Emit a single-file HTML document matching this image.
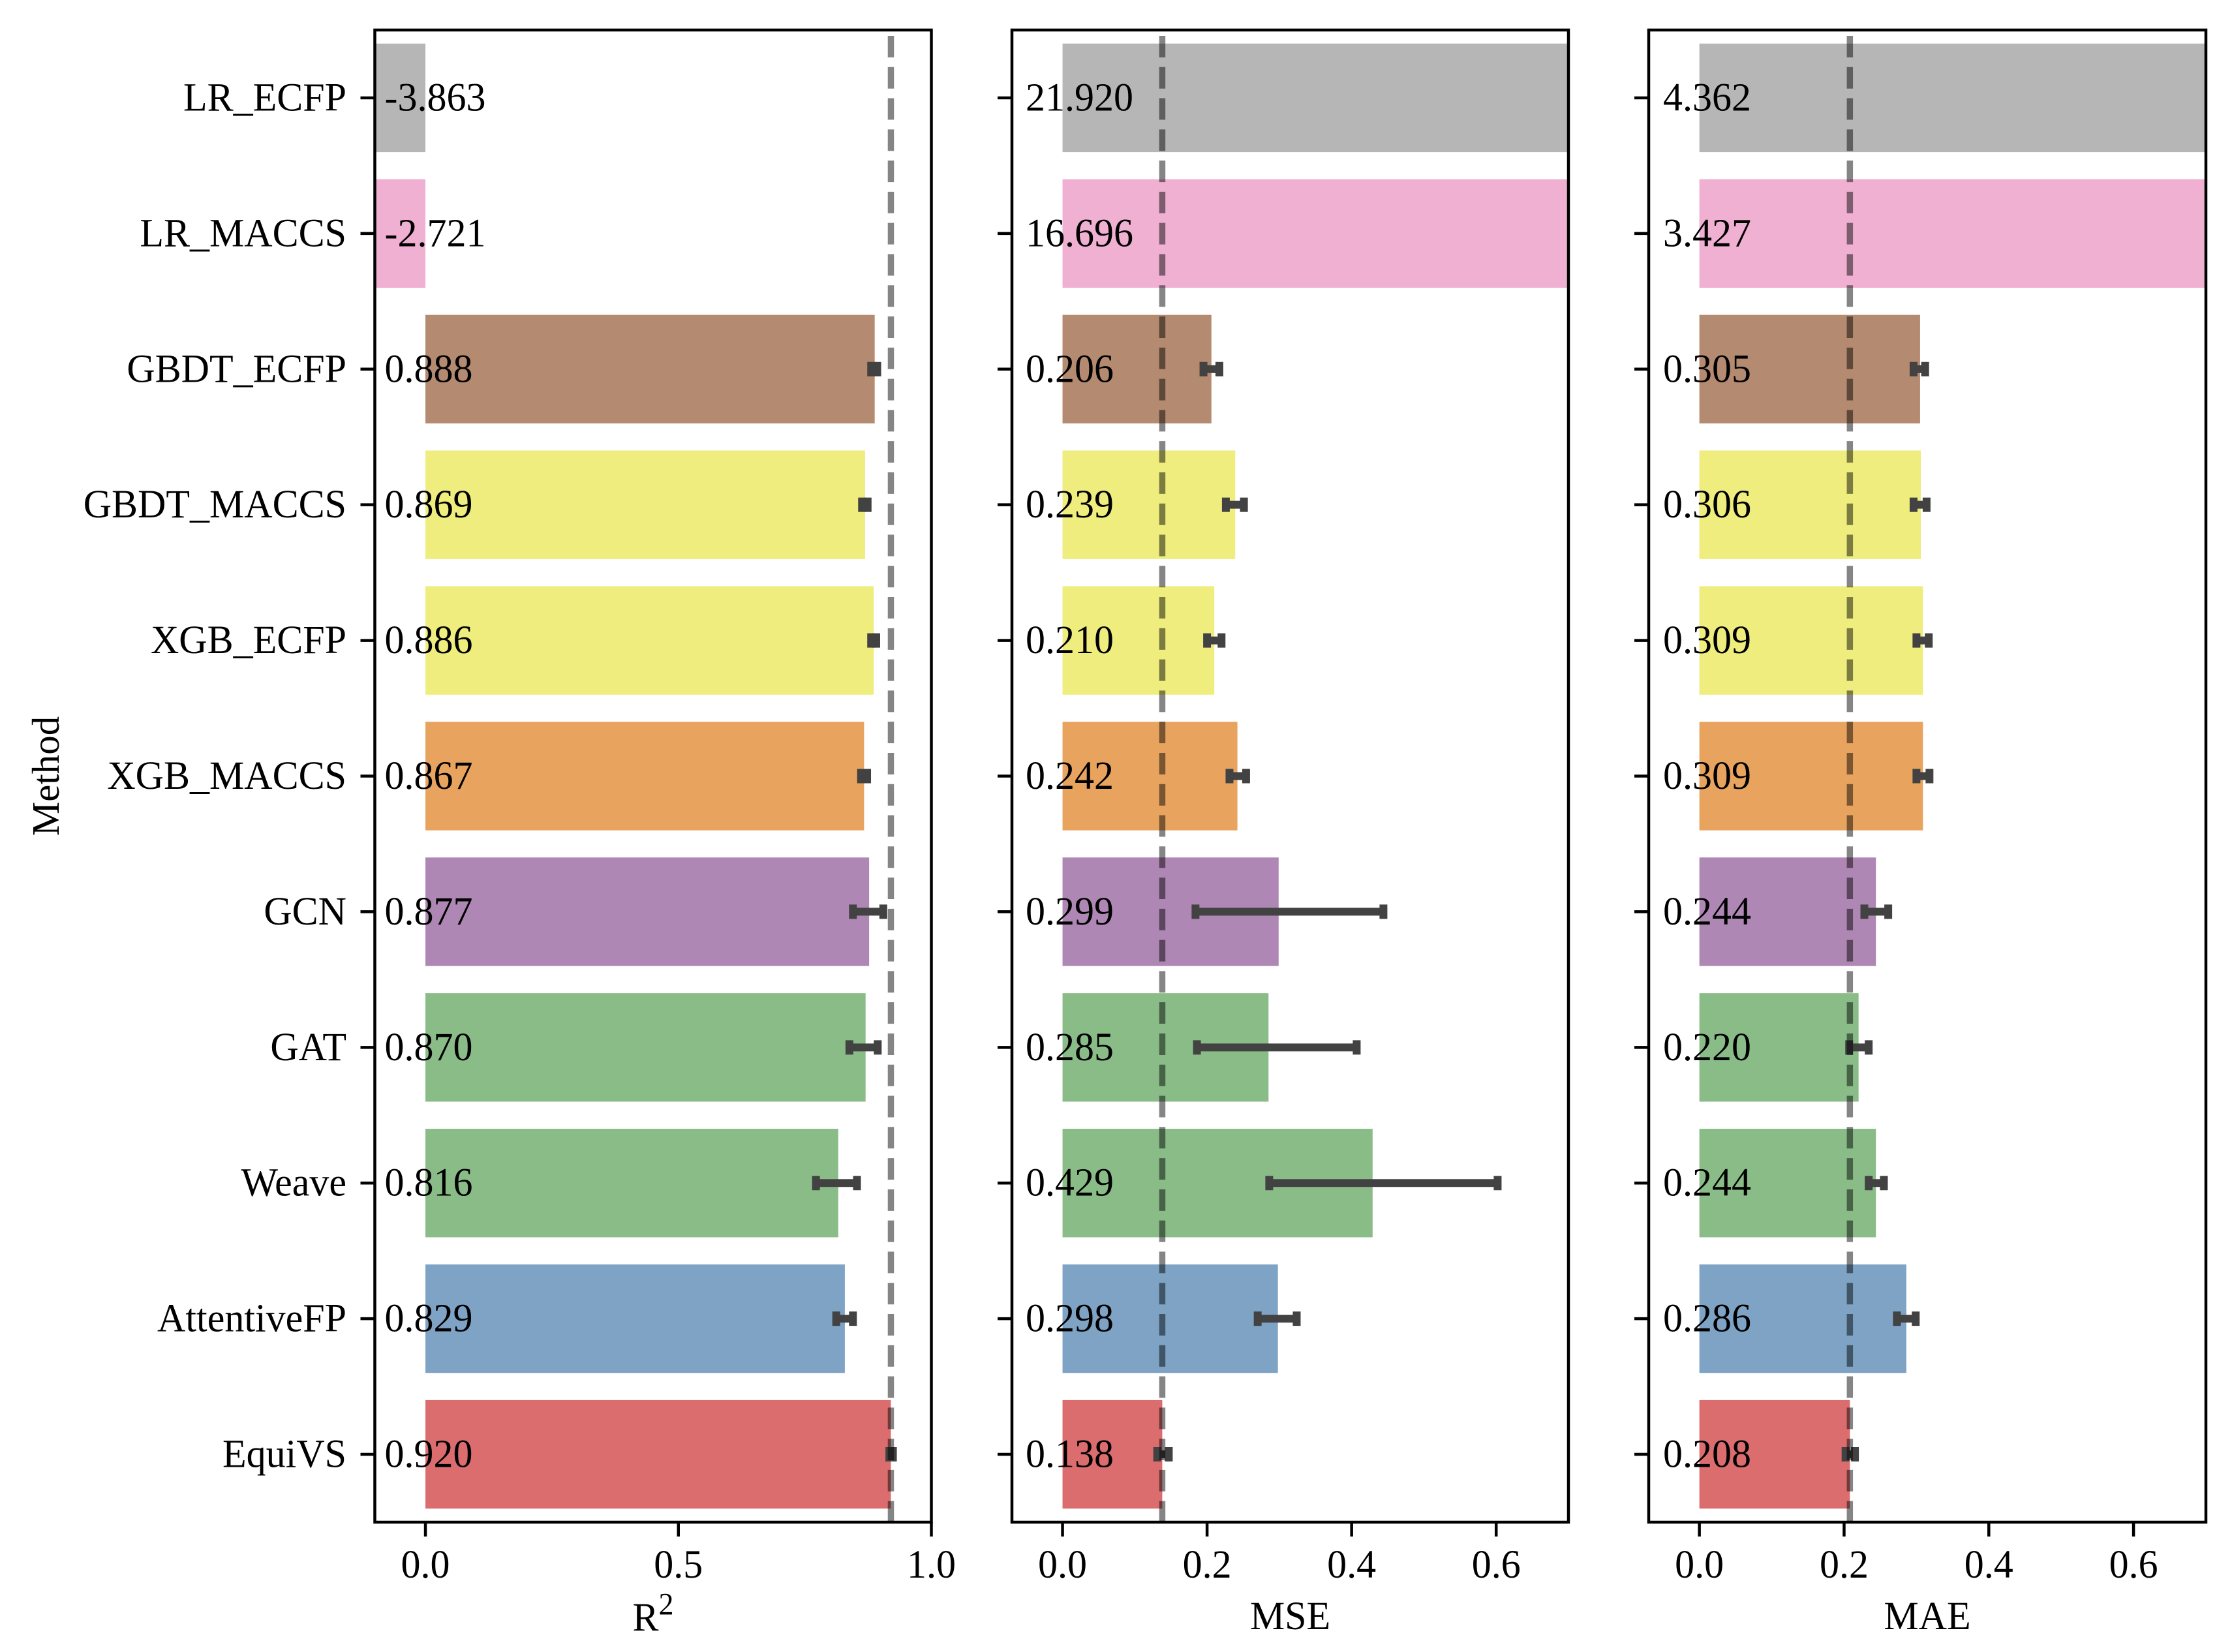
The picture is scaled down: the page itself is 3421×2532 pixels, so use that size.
<!DOCTYPE html>
<html lang="en">
<head>
<meta charset="utf-8">
<title>Method comparison: R2, MSE, MAE</title>
<style>
html,body{margin:0;padding:0;background:#fff;}
svg{display:block;}
text{font-family:"Liberation Serif","Times New Roman",serif;fill:#000;}
</style>
</head>
<body>
<svg id="chart" xmlns="http://www.w3.org/2000/svg" width="3421" height="2532" viewBox="0 0 3421 2532">
  <rect x="0" y="0" width="3421" height="2532" fill="#fff"/>
  <defs>
    <clipPath id="clip-r2"><rect x="574.5" y="46" width="853" height="2287"/></clipPath>
    <clipPath id="clip-mse"><rect x="1551" y="46" width="853" height="2287"/></clipPath>
    <clipPath id="clip-mae"><rect x="2527" y="46" width="854" height="2287"/></clipPath>
  </defs>
  <text transform="translate(90 1189.5) rotate(-90)" text-anchor="middle" font-size="59">Method</text>
  <text transform="translate(1001 2499) scale(1 1.03)" text-anchor="middle" font-size="60">R<tspan font-size="46" dy="-24">2</tspan></text>
  <text transform="translate(1977.5 2497) scale(1 1.03)" text-anchor="middle" font-size="60">MSE</text>
  <text transform="translate(2954 2497) scale(1 1.03)" text-anchor="middle" font-size="60">MAE</text>
</svg>
<script>
const categories = ["LR_ECFP","LR_MACCS","GBDT_ECFP","GBDT_MACCS","XGB_ECFP","XGB_MACCS","GCN","GAT","Weave","AttentiveFP","EquiVS"];

const r2Values  = [-3.863,-2.721,0.888,0.869,0.886,0.867,0.877,0.870,0.816,0.829,0.920];
const r2Low     = [null,null,0.881,0.863,0.881,0.861,0.845,0.838,0.772,0.812,0.917];
const r2High    = [null,null,0.893,0.874,0.891,0.873,0.905,0.894,0.853,0.845,0.924];

const mseValues = [21.920,16.696,0.206,0.239,0.210,0.242,0.299,0.285,0.429,0.298,0.138];
const mseLow    = [null,null,0.195,0.226,0.200,0.231,0.184,0.186,0.286,0.270,0.131];
const mseHigh   = [null,null,0.217,0.251,0.220,0.254,0.444,0.407,0.602,0.324,0.147];

const maeValues = [4.362,3.427,0.305,0.306,0.309,0.309,0.244,0.220,0.244,0.286,0.208];
const maeLow    = [null,null,0.296,0.296,0.300,0.300,0.228,0.207,0.234,0.273,0.202];
const maeHigh   = [null,null,0.312,0.314,0.317,0.318,0.261,0.234,0.255,0.299,0.215];

const r2Ticks = ["0.0","0.5","1.0"];
const mseTicks = ["0.0","0.2","0.4","0.6"];
const maeTicks = ["0.0","0.2","0.4","0.6"];

const r2Reference = 0.920;
const mseReference = 0.138;
const maeReference = 0.208;

const barColors = ["#B6B6B6","#EFB0D2","#B48A70","#EEED7E","#EEED7E","#E8A45E","#AF87B4","#8ABC88","#8ABC88","#7EA3C5","#DB6D6F"];

const svg = document.getElementById('chart');
const NS = 'http://www.w3.org/2000/svg';
const TOP = 46, BOTTOM = 2333;
const FONT = 60, STRETCH = 1.03;

function mk(parent, tag, attrs) {
  const el = document.createElementNS(NS, tag);
  for (const k in attrs) el.setAttribute(k, attrs[k]);
  parent.appendChild(el);
  return el;
}
function bandY(i) {
  return TOP + (BOTTOM - TOP) * (i + 0.5) / categories.length;
}
function slug(s) {
  return s.toLowerCase().replace(/_/g, '-');
}

const panels = [
  {key:'r2', left:574.5, right:1427.5, xmin:-0.1, xmax:1.0, values:r2Values, low:r2Low, high:r2High, ticks:r2Ticks, ref:r2Reference, labels:true, textInset:15},
  {key:'mse', left:1551, right:2404, xmin:-0.07, xmax:0.7, values:mseValues, low:mseLow, high:mseHigh, ticks:mseTicks, ref:mseReference, labels:false, textInset:21},
  {key:'mae', left:2527, right:3381, xmin:-0.07, xmax:0.7, values:maeValues, low:maeLow, high:maeHigh, ticks:maeTicks, ref:maeReference, labels:false, textInset:22}
];

panels.forEach(function (p) {
  const x = function (v) { return p.left + (v - p.xmin) * (p.right - p.left) / (p.xmax - p.xmin); };
  const g = mk(svg, 'g', {});
  
  

  const plot = mk(g, 'g', {'clip-path': 'url(#clip-' + p.key + ')'});
  
  

  categories.forEach(function (c, i) {
    const y = bandY(i), h = (BOTTOM - TOP) / categories.length * 0.8;
    const x0 = x(0), x1 = x(p.values[i]);
    const bar = mk(plot, 'rect', {x: Math.min(x0, x1), y: y - h / 2, width: Math.abs(x1 - x0), height: h, fill: barColors[i]});
    
    
  });

  categories.forEach(function (c, i) {
    if (p.low[i] === null) return;
    const y = bandY(i), a = x(p.low[i]), b = x(p.high[i]);
    const eg = mk(plot, 'g', {stroke: '#424242', 'stroke-width': 12, fill: 'none'});
    
    
    mk(eg, 'line', {x1: a, y1: y, x2: b, y2: y});
    mk(eg, 'line', {x1: a, y1: y - 11, x2: a, y2: y + 11});
    mk(eg, 'line', {x1: b, y1: y - 11, x2: b, y2: y + 11});
  });

  const ref = mk(plot, 'line', {x1: x(p.ref), y1: TOP, x2: x(p.ref), y2: BOTTOM, stroke: '#000', 'stroke-opacity': 0.48, 'stroke-width': 9.5, 'stroke-dasharray': '33 14.78', 'stroke-dashoffset': 38.78});
  
  

  categories.forEach(function (c, i) {
    const y = bandY(i);
    const t = mk(g, 'text', {transform: 'translate(' + (p.left + p.textInset) + ' ' + (y + 19.5) + ') scale(1 ' + STRETCH + ')', 'font-size': FONT});
    t.textContent = p.values[i].toFixed(3);
    
    

    const tick = mk(g, 'line', {x1: p.left - 22, y1: y, x2: p.left, y2: y, stroke: '#000', 'stroke-width': 4.5});
    
    

    if (p.labels) {
      const l = mk(g, 'text', {transform: 'translate(531 ' + (y + 19.5) + ') scale(1 ' + STRETCH + ')', 'text-anchor': 'end', 'font-size': FONT});
      l.textContent = c;
      
      
    }
  });

  p.ticks.forEach(function (label) {
    const tx = x(parseFloat(label));
    const tick = mk(g, 'line', {x1: tx, y1: BOTTOM, x2: tx, y2: BOTTOM + 22, stroke: '#000', 'stroke-width': 4.5});
    
    
    const t = mk(g, 'text', {transform: 'translate(' + tx + ' 2418) scale(1 ' + STRETCH + ')', 'text-anchor': 'middle', 'font-size': FONT});
    t.textContent = label;
    
    
  });

  const frame = mk(g, 'rect', {x: p.left, y: TOP, width: p.right - p.left, height: BOTTOM - TOP, fill: 'none', stroke: '#000', 'stroke-width': 4.5});
  
  
});
</script>
</body>
</html>
